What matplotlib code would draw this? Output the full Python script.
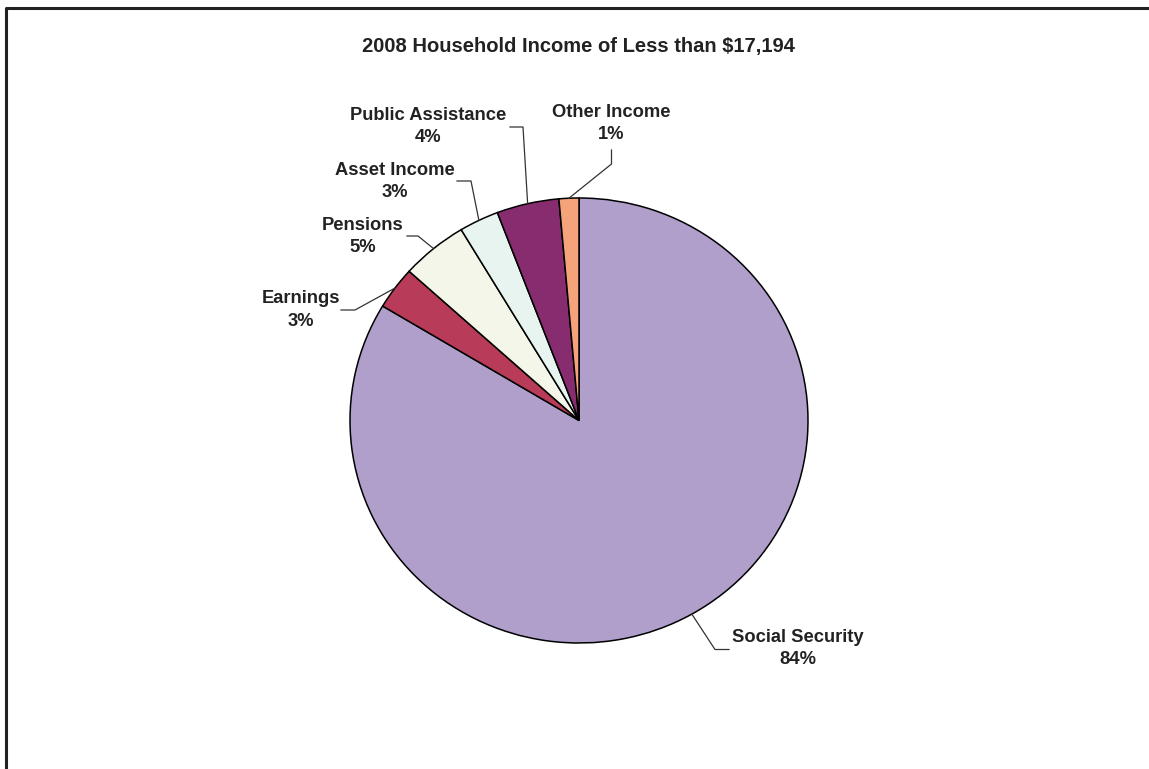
import numpy as np
import matplotlib.pyplot as plt
from matplotlib.lines import Line2D

categories = ['Social Security', 'Earnings', 'Pensions', 'Asset Income',
              'Public Assistance', 'Other Income']
shares = [83.6, 3.1, 4.7, 2.8, 4.4, 1.4]
colors = ['#B09FCB', '#B83C59', '#F3F6E8', '#E7F4F0', '#862C6F', '#F5A37B']
title = '2008 Household Income of Less than $17,194'

W, H = 1149, 769

# label layout in pixels (from top-left): text centre, leader bend, leader end
label_pos = [(797.5, 648.5), (301, 310), (362.5, 236.5), (394.5, 181.5),
             (428.5, 126.5), (611.5, 123.5)]
bend_pos = [(715, 649.5), (355, 310), (418, 236), (471, 181),
            (523, 127), (611.5, 164)]
end_pos = [(729, 649.5), (341, 310), (407, 236), (457, 181),
           (510, 127), (611.5, 150)]


def fx(x):
    return x / W


def fy(y):
    return 1 - y / H


plt.rcParams['font.family'] = ['Liberation Sans', 'DejaVu Sans']
fig = plt.figure(figsize=(W / 100, H / 100), dpi=100)
fig.patch.set_facecolor('white')

# pie axes: centre (579, 420.5), radii 229 x 222.5 px
ax = fig.add_axes([fx(350), fy(643), fx(458), 445 / H])
wedges, _ = ax.pie(shares, colors=colors, startangle=90, counterclock=False,
                   wedgeprops=dict(edgecolor='black', linewidth=1.1))
ax.set_aspect('auto')
ax.set_xlim(-1, 1)
ax.set_ylim(-1, 1)
ax.axis('off')

to_fig = fig.transFigure.inverted()
for w, name, v, lp, bp, ep in zip(wedges, categories, shares,
                                    label_pos, bend_pos, end_pos):
    mid = np.deg2rad((w.theta1 + w.theta2) / 2)
    sx, sy = to_fig.transform(ax.transData.transform((np.cos(mid), np.sin(mid))))
    fig.add_artist(Line2D([sx, fx(bp[0]), fx(ep[0])],
                          [sy, fy(bp[1]), fy(ep[1])],
                          color='#333333', lw=0.9, transform=fig.transFigure))
    fig.text(fx(lp[0]), fy(lp[1]), f'{name}\n{round(v)}%', ha='center',
             va='center', fontsize=13.2, fontweight='bold', color='#222222',
             linespacing=1.4)

fig.text(fx(578), fy(46.5), title, ha='center', va='center', fontsize=14.5,
         fontweight='bold', color='#222222')

# chart frame (left and top edges visible)
fig.add_artist(Line2D([fx(6), fx(6), fx(W + 5)], [fy(H + 5), fy(8), fy(8)],
                      color='#222222', lw=2.2, transform=fig.transFigure))

fig.savefig('out.png', dpi=100)
